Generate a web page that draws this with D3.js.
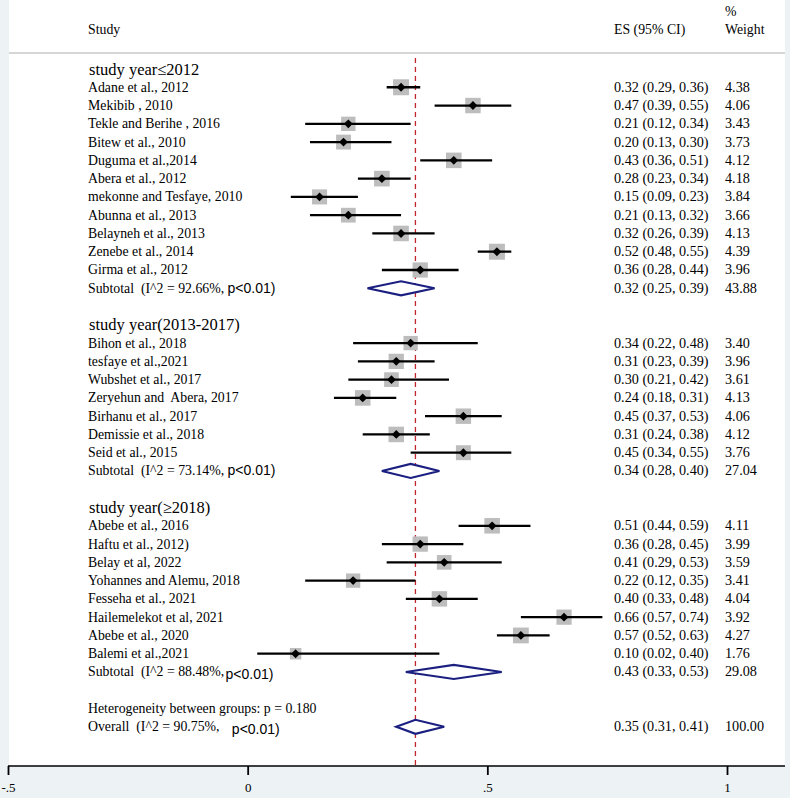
<!DOCTYPE html>
<html lang="en">
	<head>
		<meta charset="utf-8">
		<title>Forest plot by study year</title>
		<script src="https://d3js.org/d3.v7.min.js"></script>
		<style type="text/css">
			body { margin: 0; background: #edf2f5; }
			svg text { font-family: "Liberation Serif", "Times New Roman", serif; white-space: pre; }
			.sans { font-family: "Liberation Sans", Arial, sans-serif; }
		</style>
	</head>
	<body>
		<script type="text/javascript">
			// Data
			var groupNames = ["study year\u22642012", "study year(2013-2017)", "study year(\u22652018)"];

			var studies1 = ["Adane et al., 2012", "Mekibib , 2010", "Tekle and Berihe , 2016", "Bitew et al., 2010",
				"Duguma et al.,2014", "Abera et al., 2012", "mekonne and Tesfaye, 2010", "Abunna et al., 2013",
				"Belayneh et al., 2013", "Zenebe et al., 2014", "Girma et al., 2012"];
			var es1 = [0.32, 0.47, 0.21, 0.20, 0.43, 0.28, 0.15, 0.21, 0.32, 0.52, 0.36];
			var lo1 = [0.29, 0.39, 0.12, 0.13, 0.36, 0.23, 0.09, 0.13, 0.26, 0.48, 0.28];
			var hi1 = [0.36, 0.55, 0.34, 0.30, 0.51, 0.34, 0.23, 0.32, 0.39, 0.55, 0.44];
			var wt1 = [4.38, 4.06, 3.43, 3.73, 4.12, 4.18, 3.84, 3.66, 4.13, 4.39, 3.96];

			var studies2 = ["Bihon et al., 2018", "tesfaye et al.,2021", "Wubshet et al., 2017", "Zeryehun and  Abera, 2017",
				"Birhanu et al., 2017", "Demissie et al., 2018", "Seid et al., 2015"];
			var es2 = [0.34, 0.31, 0.30, 0.24, 0.45, 0.31, 0.45];
			var lo2 = [0.22, 0.23, 0.21, 0.18, 0.37, 0.24, 0.34];
			var hi2 = [0.48, 0.39, 0.42, 0.31, 0.53, 0.38, 0.55];
			var wt2 = [3.40, 3.96, 3.61, 4.13, 4.06, 4.12, 3.76];

			var studies3 = ["Abebe et al., 2016", "Haftu et al., 2012)", "Belay et al, 2022", "Yohannes and Alemu, 2018",
				"Fesseha et al., 2021", "Hailemelekot et al, 2021", "Abebe et al., 2020", "Balemi et al.,2021"];
			var es3 = [0.51, 0.36, 0.41, 0.22, 0.40, 0.66, 0.57, 0.10];
			var lo3 = [0.44, 0.28, 0.29, 0.12, 0.33, 0.57, 0.52, 0.02];
			var hi3 = [0.59, 0.45, 0.53, 0.35, 0.48, 0.74, 0.63, 0.40];
			var wt3 = [4.11, 3.99, 3.59, 3.41, 4.04, 3.92, 4.27, 1.76];

			var subEs = [0.32, 0.34, 0.43];
			var subLo = [0.25, 0.28, 0.33];
			var subHi = [0.39, 0.40, 0.53];
			var subWt = [43.88, 27.04, 29.08];
			var subI2 = ["92.66%", "73.14%", "88.48%"];

			var overall = {es: 0.35, lo: 0.31, hi: 0.41, wt: 100.00, i2: "90.75%"};
			var hetText = "Heterogeneity between groups: p = 0.180";

			var tickValues = [-0.5, 0, 0.5, 1];
			var tickLabels = ["-.5", "0", ".5", "1"];

			// Width and height
			var w = 790;
			var h = 798;

			var mySVG = d3.select('body').append('svg').attr('width', w).attr('height', h);

			// plot background
			mySVG.append('rect').attr('x', 9).attr('y', 0).attr('width', 776).attr('height', 766).attr('fill', 'white');

			// build rows list
			var groups = [
				{names: studies1, es: es1, lo: lo1, hi: hi1, wt: wt1},
				{names: studies2, es: es2, lo: lo2, hi: hi2, wt: wt2},
				{names: studies3, es: es3, lo: lo3, hi: hi3, wt: wt3}
			];
			var rows = [];
			var r = 0;
			groups.forEach(function(g, gi) {
				rows.push({type: 'header', label: groupNames[gi], row: r++});
				g.names.forEach(function(n, i) {
					rows.push({type: 'study', label: n, es: g.es[i], lo: g.lo[i], hi: g.hi[i], wt: g.wt[i], row: r++});
				});
				rows.push({type: 'sub', label: 'Subtotal  (I^2 = ' + subI2[gi] + ', ', es: subEs[gi], lo: subLo[gi], hi: subHi[gi], wt: subWt[gi], row: r++, gi: gi});
				r++;
			});
			rows.push({type: 'het', label: hetText, row: r++});
			rows.push({type: 'overall', label: 'Overall  (I^2 = ' + overall.i2 + ',   ', es: overall.es, lo: overall.lo, hi: overall.hi, wt: overall.wt, row: r++});

			//Create scale functions
			var xScale = d3.scaleLinear().domain([-0.5, 1]).range([8, 727]);
			var yScale = d3.scaleLinear().domain([0, r - 1]).range([69, 726.8]);
			var boxScale = d3.scaleLinear().domain([1.76, 4.39]).range([11.5, 16]);

			var f2 = d3.format('.2f');
			var fs = 13.8;

			// header
			mySVG.append('text').attr('x', 88).attr('y', 34).attr('font-size', fs).text('Study');
			mySVG.append('text').attr('x', 614).attr('y', 34).attr('font-size', fs).text('ES (95% CI)');
			mySVG.append('text').attr('x', 725).attr('y', 16).attr('font-size', fs).text('%');
			mySVG.append('text').attr('x', 725).attr('y', 34).attr('font-size', fs).text('Weight');
			mySVG.append('line').attr('x1', 9).attr('x2', 785).attr('y1', 53).attr('y2', 53)
				.attr('stroke', '#c8c8c8').attr('stroke-width', 1.5);

			// overall dashed line
			mySVG.append('line')
				.attr('x1', xScale(overall.es)).attr('x2', xScale(overall.es))
				.attr('y1', 58).attr('y2', 766)
				.attr('stroke', '#c0262e').attr('stroke-width', 1.3).attr('stroke-dasharray', '5,4');

			var studyRows = rows.filter(d => d.type == 'study');
			var poolRows = rows.filter(d => d.type == 'sub' || d.type == 'overall');

			// weight boxes
			mySVG.selectAll('rect.box')
				.data(studyRows)
				.enter()
				.append('rect')
					.attr('class', 'box')
					.attr('x', d => xScale(d.es) - boxScale(d.wt) / 2)
					.attr('y', d => yScale(d.row) - boxScale(d.wt) / 2)
					.attr('width', d => boxScale(d.wt))
					.attr('height', d => boxScale(d.wt))
					.attr('fill', '#bdbdbd');

			// CI lines
			mySVG.selectAll('line.ci')
				.data(studyRows)
				.enter()
				.append('line')
					.attr('class', 'ci')
					.attr('x1', d => xScale(d.lo))
					.attr('x2', d => xScale(d.hi))
					.attr('y1', d => yScale(d.row))
					.attr('y2', d => yScale(d.row))
					.attr('stroke', 'black')
					.attr('stroke-width', 2.3);

			// point estimate markers
			mySVG.selectAll('path.pt')
				.data(studyRows)
				.enter()
				.append('path')
					.attr('class', 'pt')
					.attr('d', d3.symbol().type(d3.symbolDiamond2).size(50))
					.attr('transform', d => 'translate(' + xScale(d.es) + ',' + yScale(d.row) + ')')
					.attr('fill', 'black');

			// pooled diamonds
			mySVG.selectAll('path.pool')
				.data(poolRows)
				.enter()
				.append('path')
					.attr('class', 'pool')
					.attr('d', function(d) {
						var y = yScale(d.row);
						return 'M' + xScale(d.lo) + ',' + y + 'L' + xScale(d.es) + ',' + (y - 7) +
							'L' + xScale(d.hi) + ',' + y + 'L' + xScale(d.es) + ',' + (y + 7) + 'Z';
					})
					.attr('fill', 'white')
					.attr('stroke', '#1a1f80')
					.attr('stroke-width', 2.2);

			// labels
			var labels = mySVG.selectAll('text.lab')
				.data(rows)
				.enter()
				.append('text')
					.attr('class', 'lab')
					.attr('x', d => d.type == 'header' ? 89 : 88)
					.attr('y', d => yScale(d.row) + (d.type == 'header' ? 5.5 : 4.5))
					.attr('font-size', d => d.type == 'header' ? 16.5 : fs)
					.text(d => d.label);

			labels.filter(d => d.type == 'sub' || d.type == 'overall')
				.append('tspan')
					.attr('class', 'sans')
					.attr('font-size', 14)
					.attr('dx', d => d.type == 'overall' ? 2 : (d.gi == 2 ? -2 : 0))
					.attr('dy', d => (d.type == 'overall' || d.gi == 2) ? 3 : 0)
					.text('p<0.01)');

			// ES and weight columns
			var valRows = rows.filter(d => d.es != null);
			mySVG.selectAll('text.es')
				.data(valRows)
				.enter()
				.append('text')
					.attr('class', 'es')
					.attr('x', 614)
					.attr('y', d => yScale(d.row) + 4.5)
					.attr('font-size', 14.2)
					.text(d => f2(d.es) + ' (' + f2(d.lo) + ', ' + f2(d.hi) + ')');
			mySVG.selectAll('text.wt')
				.data(valRows)
				.enter()
				.append('text')
					.attr('class', 'wt')
					.attr('x', 725)
					.attr('y', d => yScale(d.row) + 4.5)
					.attr('font-size', 14.2)
					.text(d => f2(d.wt));

			// x axis
			var xAxis = d3.axisBottom(xScale)
				.tickValues(tickValues)
				.tickFormat((d, i) => tickLabels[i])
				.tickSize(9)
				.tickPadding(8)
				.tickSizeOuter(0);
			var gAxis = mySVG.append('g').attr('transform', 'translate(0,766)').call(xAxis);
			gAxis.select('.domain').attr('d', 'M8,0H785').attr('stroke-width', 1.5);
			gAxis.selectAll('.tick line').attr('stroke-width', 1.8);
			gAxis.selectAll('.tick text')
				.attr('font-family', '"Liberation Serif", "Times New Roman", serif')
				.attr('font-size', 13);
		</script>
	</body>
</html>
